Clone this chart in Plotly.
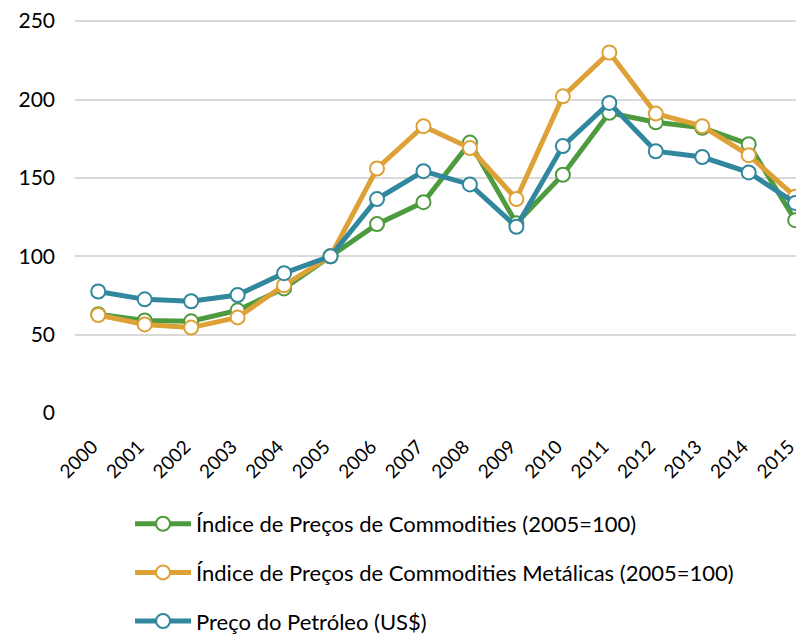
import plotly.graph_objects as go

years = [str(y) for y in range(2000, 2016)]
commodities = [63, 59, 58.5, 65.5, 79.5, 100, 120.5, 134.5, 172.5, 121, 152, 191.5, 185.5, 182, 171.5, 123]
metalicas = [62.5, 56.5, 54.5, 61, 81.5, 100, 156, 183, 169, 136.5, 202, 230, 191, 183, 164.5, 138]
petroleo = [77.5, 72.5, 71.3, 75.3, 89.2, 100, 136.5, 154.3, 145.8, 118.8, 170.3, 197.8, 167, 163.3, 153.5, 134]

names = [
    "Índice de Preços de Commodities (2005=100)",
    "Índice de Preços de Commodities Metálicas (2005=100)",
    "Preço do Petróleo (US$)",
]
colors = ["#4E9A3E", "#DDA137", "#31879D"]
series = [commodities, metalicas, petroleo]

FONT = "Lato"

fig = go.Figure()
for i, (name, vals, col) in enumerate(zip(names, series, colors)):
    fig.add_trace(go.Scatter(
        x=years, y=vals, name=name, mode="lines+markers",
        line=dict(color=col, width=5),
        marker=dict(size=14, color="white", line=dict(color=col, width=2)),
        legendgroup=str(i), cliponaxis=False,
    ))

fig.update_layout(
    width=796, height=626,
    margin=dict(l=67, r=0, t=10, b=221, autoexpand=False),
    paper_bgcolor="white", plot_bgcolor="white",
    font=dict(family=FONT, size=20, color="#000000"),
    showlegend=True,
    legend=dict(
        orientation="v", xref="container", yref="container",
        x=0.1533, xanchor="left", y=0.2093, yanchor="top",
        font=dict(family=FONT, size=22, color="#000000"),
        tracegroupgap=17, itemwidth=56,
        bgcolor="rgba(0,0,0,0)",
    ),
    xaxis=dict(
        type="category", range=[-0.5, 15.19], showgrid=False, automargin=False,
        tickangle=-45, tickfont=dict(family=FONT, size=19, color="#000000"),
        showline=False, ticks="", zeroline=False,
        ticklabelstandoff=18, ticklabelshift=-6, ticklabeloverflow="allow",
    ),
    yaxis=dict(
        range=[0, 252], tickvals=[0, 50, 100, 150, 200, 250], automargin=False,
        showgrid=True, gridcolor="#D9D9D9", gridwidth=2,
        zeroline=False, showline=False, ticks="",
        tickfont=dict(family=FONT, size=21, color="#000000"),
        ticklabelstandoff=19, ticklabeloverflow="allow",
    ),
)

fig.write_html("out.html")
